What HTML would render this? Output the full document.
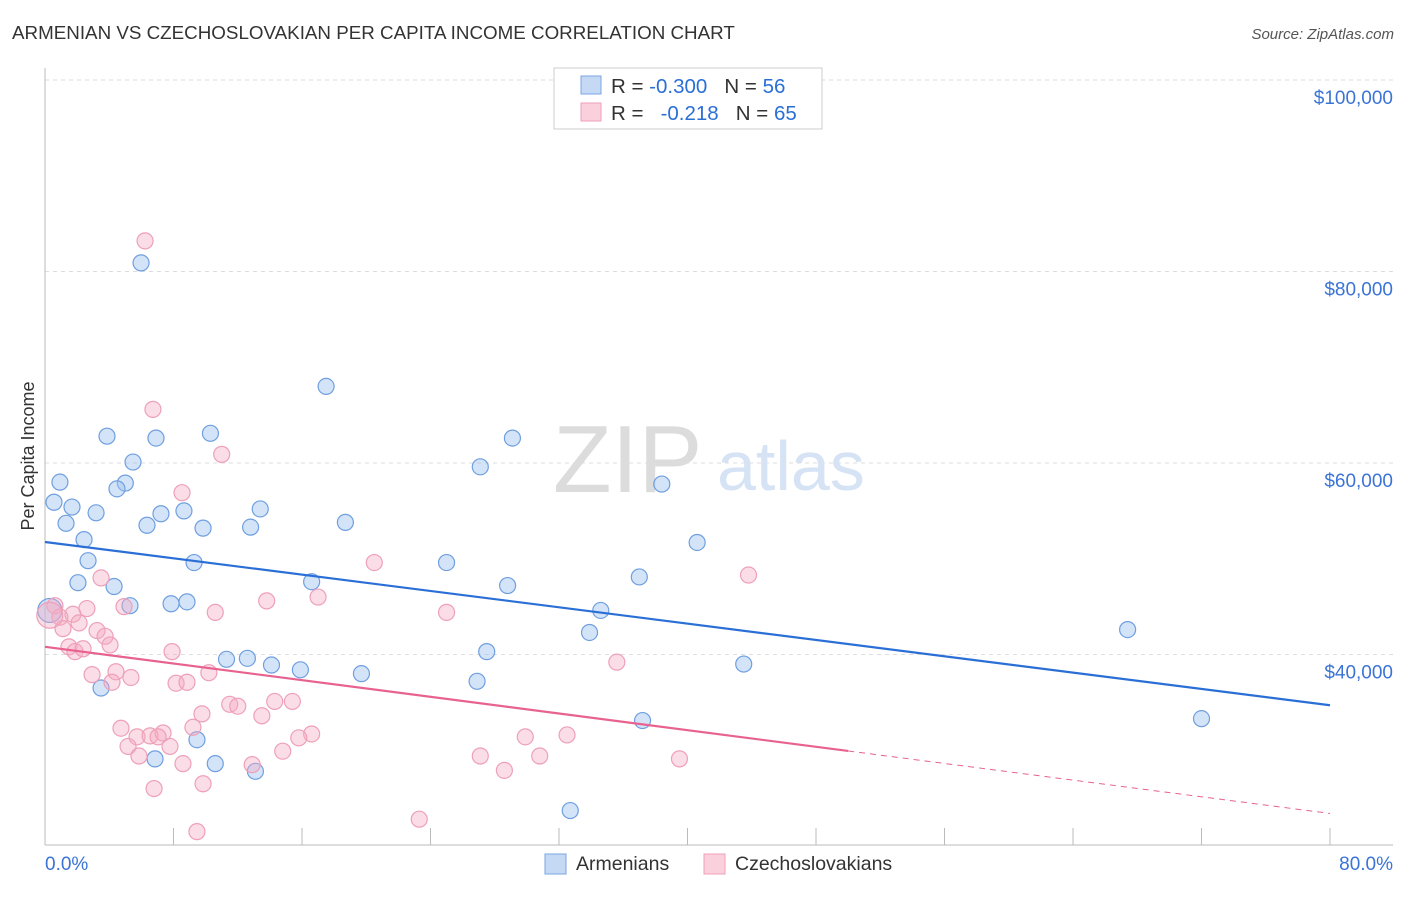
<!DOCTYPE html>
<html><head><meta charset="utf-8"><style>
body{margin:0;background:#fff;font-family:"Liberation Sans",sans-serif}
svg text{font-family:"Liberation Sans",sans-serif}
</style></head><body>
<svg id="c" width="1406" height="892"></svg>
<script>
const blueX=[5.98,17.5,3.86,6.91,10.3,29.1,27.1,5.48,0.93,5.0,4.48,38.4,0.56,1.68,3.18,1.31,7.22,8.65,6.35,9.84,12.8,13.4,18.7,2.43,40.6,2.68,9.28,25.0,2.05,4.30,16.6,28.8,37.0,5.29,7.85,8.84,34.6,0.3,33.9,67.4,27.5,11.3,12.6,14.1,15.9,19.7,43.5,3.49,26.9,72.0,37.2,9.46,6.85,10.6,13.1,32.7];
const blueY=[80.9,68.0,62.8,62.6,63.1,62.6,59.6,60.1,58.0,57.9,57.3,57.8,55.9,55.4,54.8,53.7,54.7,55.0,53.5,53.2,53.3,55.2,53.8,52.0,51.7,49.8,49.6,49.6,47.5,47.1,47.6,47.2,48.1,45.1,45.3,45.5,44.6,44.6,42.3,42.6,40.3,39.5,39.6,38.9,38.4,38.0,39.0,36.5,37.2,33.3,33.1,31.1,29.1,28.6,27.8,23.7];
const pinkX=[6.23,6.72,11.0,8.53,20.5,43.8,3.49,17.0,13.8,2.61,4.92,10.6,25.0,0.62,0.93,1.74,2.12,1.12,3.24,3.74,4.05,1.49,1.87,2.37,7.91,35.6,2.93,4.42,5.35,4.17,8.16,8.84,10.2,11.5,12.0,14.3,15.4,9.77,13.5,9.21,4.73,5.73,6.54,7.35,7.04,16.6,15.8,29.9,32.5,5.17,7.78,5.85,14.8,12.9,8.59,27.1,30.8,28.6,39.5,6.79,9.84,23.3,9.46,0.3];
const pinkY=[83.2,65.6,60.9,56.9,49.6,48.3,48.0,46.0,45.6,44.8,45.0,44.4,44.4,45.1,43.9,44.2,43.3,42.7,42.5,41.9,41.0,40.8,40.3,40.6,40.3,39.2,37.9,38.2,37.6,37.1,37.0,37.1,38.1,34.8,34.6,35.1,35.1,33.8,33.6,32.4,32.3,31.4,31.5,31.8,31.4,31.7,31.3,31.4,31.6,30.4,30.4,29.4,29.9,28.5,28.6,29.4,29.4,27.9,29.1,26.0,26.5,22.8,21.5,44.1];
const yTicks=[100,80,60,40];
const yTickLabels=["$100,000","$80,000","$60,000","$40,000"];
const blueTrend=[51.75,34.7];
const pinkTrend=[40.8,23.4];
const pinkSolidEnd=50;

const NS="http://www.w3.org/2000/svg";
const svg=document.getElementById('c');
const sx=v=>45+v/80*1285;
const sy=v=>80+(100-v)*191.5/20;
function el(t,a,txt){const e=document.createElementNS(NS,t);for(const k in a)e.setAttribute(k,a[k]);if(txt!=null)e.textContent=txt;svg.appendChild(e);return e;}

let e;
e=el('text',{x:12,y:39,'font-size':18.8,fill:'#333'},'ARMENIAN VS CZECHOSLOVAKIAN PER CAPITA INCOME CORRELATION CHART');

e=el('text',{x:1394,y:39,'font-size':15,fill:'#555','text-anchor':'end','font-style':'italic'},'Source: ZipAtlas.com');


yTicks.forEach((t,i)=>{
 e=el('line',{x1:45,x2:1393,y1:sy(t),y2:sy(t),stroke:'#ddd','stroke-dasharray':'4,4'});
 
 e=el('text',{x:1393,y:sy(t)+24,'font-size':19,fill:'#3b74d6','text-anchor':'end'},yTickLabels[i]);
 
});
e=el('line',{x1:45,x2:45,y1:68,y2:845,stroke:'#bbb'});

e=el('line',{x1:45,x2:1393,y1:845,y2:845,stroke:'#bbb'});

for(let i=1;i<=10;i++){e=el('line',{x1:sx(i*8),x2:sx(i*8),y1:828,y2:845,stroke:'#bbb'});
 }
e=el('text',{x:45,y:870,'font-size':19,fill:'#3b74d6'},'0.0%');

e=el('text',{x:1393,y:870,'font-size':19,fill:'#3b74d6','text-anchor':'end'},'80.0%');

e=el('text',{x:34,y:456,'font-size':18,fill:'#333','text-anchor':'middle',transform:'rotate(-90 34 456)'},'Per Capita Income');


e=el('text',{x:553,y:492,'font-size':96,fill:'#dcdcdc','font-family':'Liberation Serif'},'ZIP');

e=el('text',{x:717,y:490,'font-size':70,fill:'#d6e3f5'},'atlas');


blueX.forEach((x,i)=>{e=el('circle',{cx:sx(x),cy:sy(blueY[i]),r:i==37?12:8,fill:'rgba(160,195,240,0.45)',stroke:'#6f9fe0','stroke-width':1.2});
 });
pinkX.forEach((x,i)=>{e=el('circle',{cx:sx(x),cy:sy(pinkY[i]),r:i==63?13:8,fill:'rgba(245,170,195,0.4)',stroke:'#eea0b8','stroke-width':1.2});
 });

const ln=(a,b,x)=>a+(b-a)*x/80;
e=el('line',{x1:sx(0),y1:sy(blueTrend[0]),x2:sx(80),y2:sy(blueTrend[1]),stroke:'#2a6fd6','stroke-width':2.2});

e=el('line',{x1:sx(0),y1:sy(pinkTrend[0]),x2:sx(pinkSolidEnd),y2:sy(ln(pinkTrend[0],pinkTrend[1],pinkSolidEnd)),stroke:'#e8628f','stroke-width':2.2});

e=el('line',{x1:sx(pinkSolidEnd),y1:sy(ln(pinkTrend[0],pinkTrend[1],pinkSolidEnd)),x2:sx(80),y2:sy(pinkTrend[1]),stroke:'#e8628f','stroke-width':1,'stroke-dasharray':'6,5'});


e=el('rect',{x:554,y:68,width:268,height:61,fill:'#fff',stroke:'#ccc'});

e=el('rect',{x:581,y:76,width:20,height:18,fill:'#c5d9f5',stroke:'#7aa5e3'});

e=el('rect',{x:581,y:103,width:20,height:18,fill:'#fbd0dd',stroke:'#eea0b8'});

e=el('text',{x:611,y:93,'font-size':20.5,fill:'#333'});e.innerHTML='R = <tspan fill="#2a6fd6">-0.300</tspan>   N = <tspan fill="#2a6fd6">56</tspan>';

e=el('text',{x:611,y:120,'font-size':20.5,fill:'#333'});e.innerHTML='R =   <tspan fill="#2a6fd6">-0.218</tspan>   N = <tspan fill="#2a6fd6">65</tspan>';

svg.querySelectorAll('text').forEach(t=>t.style.whiteSpace='pre');

e=el('rect',{x:545,y:854,width:21,height:20,fill:'#c5d9f5',stroke:'#7aa5e3'});

e=el('text',{x:576,y:870,'font-size':19.5,fill:'#333'},'Armenians');

e=el('rect',{x:704,y:854,width:21,height:20,fill:'#fbd0dd',stroke:'#eea0b8'});

e=el('text',{x:735,y:870,'font-size':19.5,fill:'#333'},'Czechoslovakians');

</script>
</body></html>
